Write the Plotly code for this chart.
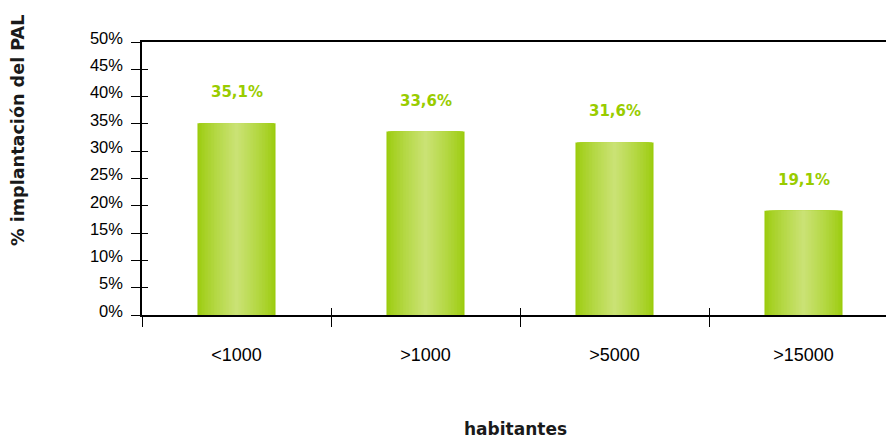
import plotly.graph_objects as go

categories = ["<1000", ">1000", ">5000", ">15000"]
values = [35.1, 33.6, 31.6, 19.1]
labels = ["35,1%", "33,6%", "31,6%", "19,1%"]
y_ticks = [0, 5, 10, 15, 20, 25, 30, 35, 40, 45, 50]

x_pos = list(range(len(categories)))
boundaries = [i - 0.5 for i in x_pos]

BAR_W = 0.413
N = 26
edge = (156, 204, 14)
center = (202, 226, 116)

fig = go.Figure()
for i in range(N):
    s = (i / (N - 1)) ** 0.85
    c = tuple(int(round(edge[k] + (center[k] - edge[k]) * s)) for k in range(3))
    fig.add_trace(go.Bar(
        x=x_pos, y=values, width=BAR_W * (1 - i / N),
        marker=dict(color=f"rgb{c}", line=dict(width=0)),
        hoverinfo="skip", showlegend=False,
    ))

# invisible trace for overlay axes
fig.add_trace(go.Scatter(x=x_pos, y=values, xaxis="x2", yaxis="y2", mode="markers",
                         marker=dict(opacity=0), hoverinfo="skip", showlegend=False))

for xi, v, lab in zip(x_pos, values, labels):
    fig.add_annotation(x=xi, y=v, text=f"<b>{lab}</b>", showarrow=False, yshift=31,
                       yanchor="middle", font=dict(family="DejaVu Sans", size=15, color="#99CC00"))

W, H = 886, 439
ml, mr, mt, mb = 142, 0, 42, 124
pw = W - ml - mr
xr = [-0.5, -0.5 + pw / 189.0]

fig.add_annotation(text="<b>% implantación del PAL</b>", xref="paper", yref="paper",
                   x=(18 - ml) / pw, y=(315 - 131) / 273.0, textangle=-90, showarrow=False,
                   xanchor="center", yanchor="middle",
                   font=dict(family="DejaVu Sans", size=17.6, color="#1a1a1a"))
fig.add_annotation(text="<b>habitantes</b>", xref="paper", yref="paper",
                   x=(515 - ml) / pw, y=(315 - 429) / 273.0, showarrow=False,
                   xanchor="center", yanchor="middle",
                   font=dict(family="DejaVu Sans", size=17, color="#1a1a1a"))

fig.update_layout(
    width=W, height=H, margin=dict(l=ml, r=mr, t=mt, b=mb),
    paper_bgcolor="white", plot_bgcolor="white", barmode="overlay",
    xaxis=dict(range=xr, tickvals=x_pos, ticktext=categories, ticks="",
               showgrid=False, zeroline=False, showline=True, linecolor="black", linewidth=2,
               mirror=True, ticklabelstandoff=22,
               tickfont=dict(family="Liberation Sans", size=18, color="black"),
               minor=dict(tickvals=boundaries, ticks="outside", ticklen=10, tickwidth=1, tickcolor="black", showgrid=False)),
    xaxis2=dict(range=xr, overlaying="x", anchor="y", side="bottom", tickvals=boundaries,
                ticks="inside", ticklen=7, tickwidth=1, tickcolor="black", showticklabels=False,
                showgrid=False, zeroline=False, showline=False),
    yaxis=dict(range=[0, 50], tickvals=y_ticks, ticktext=[f"{t}%" for t in y_ticks],
               ticks="outside", ticklen=9, tickwidth=1, tickcolor="black",
               showgrid=False, zeroline=False, showline=True, linecolor="black", linewidth=1.5,
               ticklabelstandoff=5, ticklabelshift=-4,
               tickfont=dict(family="Liberation Sans", size=16.5, color="black")),
    yaxis2=dict(range=[0, 50], overlaying="y", anchor="x", side="left", tickvals=y_ticks,
                ticks="inside", ticklen=6, tickwidth=1, tickcolor="black", showticklabels=False,
                showgrid=False, zeroline=False, showline=False),
)

fig.write_html("out.html", config={"displayModeBar": False},
               post_script="document.body.style.margin='0';document.body.style.padding='0';")
